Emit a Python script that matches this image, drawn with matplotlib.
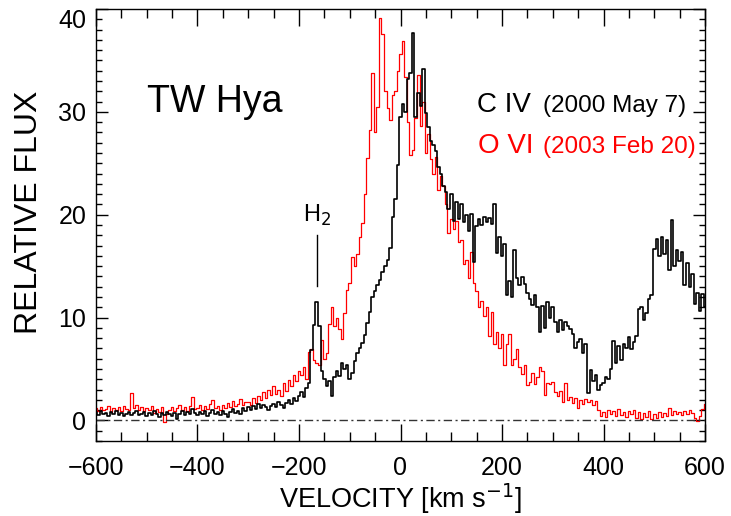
import numpy as np
import matplotlib
matplotlib.use("Agg")
import matplotlib.pyplot as plt

plt.rcParams['font.family'] = ['Liberation Sans', 'DejaVu Sans']

# velocity grid, 5 km/s bins
velocity = np.arange(-600, 601, 5)

# C IV (2000 May 7), one row per 50 km/s
civ_flux = [
    0.8, 0.5, 0.9, 0.6, 0.7, 0.4, 0.8, 0.6, 0.9, 0.5,      # -600
    0.7, 0.4, 0.6, 0.8, 0.5, 0.7, 0.9, 0.5, 0.6, 0.8,      # -550
    0.4, 0.7, 0.5, 0.9, 0.6, 0.3, 0.7, 0.5, 0.8, 0.6,      # -500
    0.4, 0.7, 0.1, 0.6, 0.9, 0.5, 0.8, 0.6, 1.1, 0.7,      # -450
    0.5, 0.8, 0.6, 0.9, 0.4, 0.7, 1.0, 0.6, 0.8, 0.5,      # -400
    0.9, 0.6, 0.3, 0.8, 1.1, 0.7, 0.9, 0.6, 1.2, 0.9,      # -350
    1.3, 1.0, 1.4, 1.1, 1.6, 1.2, 1.5, 1.3, 1.0, 1.4,      # -300
    1.6, 1.3, 1.8, 1.5, 1.2, 1.7, 2.0, 1.6, 2.2, 1.9,      # -250
    2.4, 2.8, 2.3, 3.2, 3.6, 6.8, 9.3, 11.5, 9.2, 4.8,     # -200
    4.0, 3.3, 3.8, 2.4, 4.2, 4.8, 4.3, 5.6, 5.0, 5.4,      # -150
    4.0, 4.6, 5.8, 6.6, 7.0, 7.5, 8.3, 9.5, 10.5, 12.0,    # -100
    12.6, 13.2, 13.7, 14.4, 15.0, 15.6, 16.8, 19.8, 21.5, 24.8,  # -50
    29.5, 30.8, 30.0, 33.2, 33.8, 37.7, 29.5, 31.8, 30.6, 34.2,  # 0
    29.9, 28.5, 27.2, 26.8, 26.2, 24.6, 24.0, 22.8, 22.2, 20.6,  # 50
    22.0, 19.4, 21.2, 19.6, 21.0, 19.3, 20.0, 18.4, 20.1, 15.4,  # 100
    18.9, 19.6, 19.0, 19.8, 19.3, 19.7, 19.1, 21.0, 16.3, 17.8,  # 150
    16.0, 17.2, 12.2, 13.6, 12.0, 16.6, 13.8, 13.2, 13.9, 13.3,  # 200
    12.4, 11.8, 11.2, 12.2, 11.0, 8.6, 11.1, 9.0, 11.5, 10.0,    # 250
    11.0, 9.6, 8.6, 9.8, 8.8, 9.6, 9.2, 8.9, 8.4, 7.0,           # 300
    7.6, 7.9, 6.6, 7.4, 2.7, 4.9, 3.8, 4.4, 3.0, 3.4,            # 350
    3.6, 4.2, 4.0, 5.0, 7.7, 5.6, 7.2, 5.9, 7.4, 7.0,            # 400
    8.1, 6.9, 7.6, 8.2, 10.8, 11.0, 9.8, 10.4, 11.8, 12.2,       # 450
    16.7, 17.6, 16.0, 17.8, 16.2, 17.5, 14.6, 19.5, 15.0, 16.6,  # 500
    15.5, 16.4, 13.2, 15.3, 13.0, 14.2, 11.3, 12.4, 10.6, 12.3,  # 550
    11.0,                                                        # 600
]

# O VI (2003 Feb 20)
ovi_flux = [
    1.2, 0.9, 1.3, 1.0, 1.1, 1.4, 0.8, 1.2, 1.0, 1.3,      # -600
    0.9, 1.4, 1.1, 1.0, 2.7, 1.2, 1.5, 1.0, 1.3, 0.9,      # -550
    1.2, 1.0, 1.4, 0.7, 1.1, 0.8, 1.3, -0.2, 0.6, 1.0,     # -500
    1.3, 0.9, 1.2, 1.5, 1.0, 1.3, 0.9, 1.4, 2.3, 1.1,      # -450
    1.2, 1.5, 1.0, 1.4, 1.1, 1.6, 2.0, 1.2, 1.4, 1.0,      # -400
    1.5, 1.2, 1.7, 1.3, 1.9, 1.4, 1.6, 2.1, 1.5, 1.8,      # -350
    1.8, 1.5, 2.2, 1.7, 2.4, 2.0, 2.8, 2.2, 3.0, 2.5,      # -300
    3.3, 2.6, 3.0, 2.4, 3.6, 2.9, 3.9, 3.3, 4.4, 3.8,      # -250
    4.8, 4.4, 5.2, 4.0, 6.7, 6.9, 5.9, 5.6, 5.4, 7.8,      # -200
    6.0, 6.6, 9.4, 11.0, 9.2, 10.0, 8.9, 7.9, 10.4, 12.7,  # -150
    13.4, 15.9, 15.0, 16.2, 17.8, 19.2, 22.0, 25.5, 28.2, 33.8,  # -100
    28.0, 30.5, 39.1, 37.6, 32.0, 30.4, 29.2, 31.6, 32.0, 34.0,  # -50
    35.6, 36.9, 33.4, 29.0, 25.8, 26.3, 29.4, 33.6, 28.6, 31.0,  # 0
    26.0, 27.8, 25.4, 24.0, 25.6, 22.4, 23.8, 22.8, 21.0, 18.2,  # 50
    19.6, 18.6, 19.4, 17.3, 17.5, 15.2, 15.6, 13.8, 16.4, 13.4,  # 100
    12.6, 11.0, 11.6, 10.2, 11.0, 8.2, 10.5, 7.4, 8.6, 7.0,      # 150
    8.4, 5.4, 7.4, 8.4, 5.4, 6.0, 6.9, 5.2, 4.5, 5.4,            # 200
    3.4, 3.7, 4.6, 3.5, 4.2, 5.2, 4.8, 2.5, 3.6, 3.5,            # 250
    3.7, 2.8, 2.4, 2.9, 1.8, 3.6, 2.0, 2.3, 1.7, 2.2,            # 300
    1.2, 2.0, 1.6, 2.1, 1.8, 2.0, 1.5, 1.9, 1.0, 0.4,            # 350
    0.8, 0.3, 1.0, 0.6, 0.9, 0.4, 1.1, 0.5, 0.8, 0.3,            # 400
    0.9, 0.6, 1.0, 0.2, 0.8, 0.1, 0.7, 0.3, 0.9, 0.1,            # 450
    0.6, 0.2, 0.8, 0.3, 0.7, 0.4, 1.2, 0.5, 0.9, 0.6,            # 500
    0.8, 0.5, 0.9, 0.6, 1.0, 0.7, 0.2, -0.1, 0.4, 1.1,           # 550
    1.6,                                                         # 600
]

h2_velocity = -165
h2_marker = (13.1, 18.0)

fig = plt.figure(figsize=(7.31, 5.16), dpi=100)
ax = fig.add_axes([96 / 731, 75 / 516, 609 / 731, 432 / 516])

ax.plot(velocity, ovi_flux, drawstyle="steps-mid", color="red", lw=0.9)
ax.plot(velocity, civ_flux, drawstyle="steps-mid", color="black", lw=1.2)
ax.axhline(0, color="#333333", lw=1.0, dashes=(6, 2.5, 1.5, 2.5))

# H2 line marker
ax.plot([h2_velocity, h2_velocity], h2_marker, color="black", lw=1.0)
ax.text(h2_velocity, 19.3, "H$_2$", fontsize=17, ha="center", va="baseline")

ax.text(-500, 30, "TW Hya", fontsize=27, va="baseline")
ax.text(151, 30, "C IV", fontsize=20, va="baseline", color="black")
ax.text(281, 30, "(2000 May 7)", fontsize=17.5, va="baseline", color="black")
ax.text(153, 26, "O VI", fontsize=20, va="baseline", color="red")
ax.text(281, 26, "(2003 Feb 20)", fontsize=17.5, va="baseline", color="red")

ax.set_xlim(-600, 600)
ax.set_ylim(-2, 40)
ax.set_xticks(np.arange(-600, 601, 200))
ax.set_xticks(np.arange(-600, 601, 50), minor=True)
ax.set_yticks(np.arange(0, 41, 10))
ax.set_yticks(np.arange(-2, 41, 1), minor=True)

ax.tick_params(axis="x", which="major", direction="in", length=12, width=1,
               top=True, labelsize=18, pad=11)
ax.tick_params(axis="x", which="minor", direction="in", length=6.5, width=1, top=True)
ax.tick_params(axis="y", which="major", direction="in", length=8.5, width=1,
               right=True, labelsize=18, pad=7)
ax.tick_params(axis="y", which="minor", direction="in", length=4.3, width=1, right=True)
for s in ax.spines.values():
    s.set_linewidth(1.0)

# top label sits a little lower in the original
ax.get_yticklabels()[-1].set_va("top")

ax.set_xlabel("VELOCITY [km s$^{-1}$]", fontsize=19.5, labelpad=1)
ax.set_ylabel("RELATIVE FLUX", fontsize=23)
ax.yaxis.set_label_coords(-0.085, 0.53)

fig.savefig("out.png", dpi=100)
